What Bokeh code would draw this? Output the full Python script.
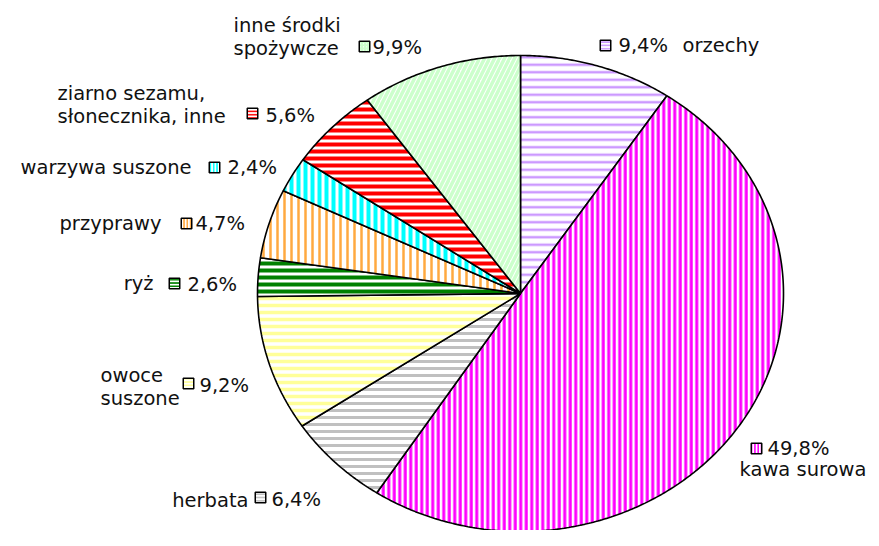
import numpy as np
from bokeh.plotting import figure
from bokeh.models import ColumnDataSource, Range1d
from bokeh.core.properties import value
from bokeh.embed import file_html
from bokeh.resources import INLINE

# ---- data ----
categories = ["orzechy", "kawa surowa", "herbata", "owoce suszone", "ryż",
              "przyprawy", "warzywa suszone", "ziarno sezamu, słonecznika, inne",
              "inne środki spożywcze"]
shares = [9.4, 49.8, 6.4, 9.2, 2.6, 4.7, 2.4, 5.6, 9.9]
pct_labels = ["9,4%", "49,8%", "6,4%", "9,2%", "2,6%", "4,7%", "2,4%", "5,6%", "9,9%"]
name_lines = [["orzechy"], ["kawa surowa"], ["herbata"], ["owoce", "suszone"], ["ryż"],
              ["przyprawy"], ["warzywa suszone"], ["ziarno sezamu,", "słonecznika, inne"],
              ["inne środki", "spożywcze"]]

# ---- styles ----
colors = ["#CC99FF", "#FF00FF", "#C0C0C0", "#FFFF99", "#008000",
          "#FFA940", "#00FFFF", "#FF0000", "#CCFFCC"]
patterns = ["horizontal_line", "vertical_line", "horizontal_line", "horizontal_line",
            "horizontal_line", "vertical_line", "vertical_line", "horizontal_line",
            "right_diagonal_line"]
hscale = [7.5, 5.5, 7, 7, 7, 7, 7, 7, 10]
hweight = [2.5, 3, 3, 3.5, 4, 2.5, 4, 4, 3.5]

# ---- layout (pixel coords) ----
W, H = 871, 530
CX, CY, RX, RY = 520, 293, 263, 238
FONT = value("DejaVu Sans")
FS = value("19.5px")

label_layout = [
    dict(mk=(605, 45), pct=(618, 45), name=(682, 45, "left")),
    dict(mk=(756, 448), pct=(767, 448), name=(739, 469, "left")),
    dict(mk=(260, 497), pct=(271, 499), name=(248, 500, "right")),
    dict(mk=(188, 383), pct=(199, 385), name=(100, 375, "left")),
    dict(mk=(174, 283), pct=(187, 284), name=(153, 283, "right")),
    dict(mk=(186, 223), pct=(195, 223), name=(161, 223, "right")),
    dict(mk=(214, 167), pct=(227, 167), name=(191, 167, "right")),
    dict(mk=(252, 113), pct=(265, 115), name=(57, 93, "left")),
    dict(mk=(364, 46), pct=(372, 47), name=(233, 25, "left")),
]
LINE_STEP = 22.5

p = figure(width=W, height=H, output_backend="svg", toolbar_location=None,
           x_range=Range1d(0, W), y_range=Range1d(H, 0), min_border=0)
p.axis.visible = False
p.grid.visible = False
p.outline_line_color = None
p.background_fill_color = "white"

# pie slices as elliptical wedges computed from the shares
frac = np.array(shares) / np.sum(shares)
ends = np.cumsum(frac) * 2 * np.pi
starts = ends - frac * 2 * np.pi
xs, ys = [], []
for a0, a1 in zip(starts, ends):
    n = max(4, int((a1 - a0) / (2 * np.pi) * 720))
    t = np.linspace(a0, a1, n)
    xs.append([CX] + list(CX + RX * np.sin(t)) + [CX])
    ys.append([CY] + list(CY - RY * np.cos(t)) + [CY])

src = ColumnDataSource(dict(xs=xs, ys=ys, hc=colors, hp=patterns, hs=hscale, hw=hweight))
p.patches("xs", "ys", source=src, fill_color="white", line_color="black", line_width=1.6,
          hatch_pattern="hp", hatch_color="hc", hatch_scale="hs", hatch_weight="hw")

# legend-key markers
mx = [d["mk"][0] for d in label_layout]
my = [d["mk"][1] for d in label_layout]
msrc = ColumnDataSource(dict(x=mx, y=my, hc=colors, hp=patterns))
p.rect("x", "y", width=10.5, height=10.5, source=msrc, fill_color="white",
       line_color="black", line_width=1.5, hatch_pattern="hp", hatch_color="hc",
       hatch_scale=3.3, hatch_weight=1.8)

# percentage labels
p.text(x=[d["pct"][0] for d in label_layout], y=[d["pct"][1] for d in label_layout],
       text=pct_labels, text_font=FONT, text_font_size=FS, text_color="#111111",
       text_baseline="middle", text_align="left")

# category names
nx, ny, nt, na = [], [], [], []
for d, lines in zip(label_layout, name_lines):
    x0, y0, al = d["name"]
    for i, ln in enumerate(lines):
        nx.append(x0)
        ny.append(y0 + i * LINE_STEP)
        nt.append(ln)
        na.append(al)
nsrc = ColumnDataSource(dict(x=nx, y=ny, t=nt, a=na))
p.text("x", "y", text="t", source=nsrc, text_font=FONT, text_font_size=FS,
       text_color="#111111", text_baseline="middle", text_align="a")

open("out.html", "w").write(file_html(p, INLINE))
